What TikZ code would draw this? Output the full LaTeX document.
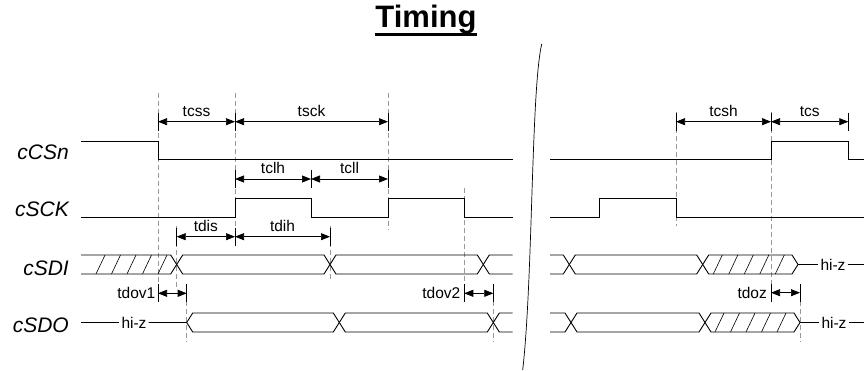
\documentclass[tikz,border=0pt]{standalone}
\usepackage{fontspec}
\setmainfont{Liberation Sans}
\usetikzlibrary{arrows.meta}

\begin{document}
\begin{tikzpicture}[x=1pt,y=1pt,
    sig/.style={black, line width=0.9pt},
    guide/.style={black!40, line width=0.7pt, dash pattern=on 5pt off 3pt},
    dimline/.style={black, line width=0.7pt, {Triangle[length=9pt,width=7pt]}-{Triangle[length=9pt,width=7pt]}},
    stopline/.style={black, line width=0.7pt},
    hatch/.style={black, line width=0.6pt},
    signame/.style={anchor=base east, font=\itshape\fontsize{21}{25}\selectfont},
    tlabel/.style={font=\fontsize{15.5}{18}\selectfont}]
    \tikzstyle{every node}+=[inner sep=0pt]
    \useasboundingbox (0,0) rectangle (864,-371);
    % title
    \node (title) [anchor=base, font=\bfseries\fontsize{31}{37}\selectfont] at (426,-28) {Timing};
    \draw [line width=2.6pt] ([yshift=-6.3pt]title.base west) -- ([yshift=-6.3pt]title.base east);
    % signal names
    \node (ncsn) [signame] at (69,-160) {cCSn};
    \node (nsck) [signame] at (69,-217) {cSCK};
    \node (nsdi) [signame] at (69,-275) {cSDI};
    \node (nsdo) [signame] at (69,-332) {cSDO};
    % guides
    \draw [guide] (158,-93) -- (158,-302);
    \draw [guide] (235,-93) -- (235,-245);
    \draw [guide] (388,-93) -- (388,-230);
    \draw [guide] (176.7,-226) -- (176.7,-290);
    \draw [guide] (186.7,-285) -- (186.7,-342);
    \draw [guide] (330,-226) -- (330,-282);
    \draw [guide] (464.3,-188) -- (464.3,-302);
    \draw [guide] (493.3,-285) -- (493.3,-342);
    \draw [guide] (676,-112) -- (676,-226);
    \draw [guide] (771,-112) -- (771,-300);
    \draw [guide] (800,-285) -- (800,-342);
    % cCSn
    \draw [sig] (81,-141) -- (158,-141) -- (158,-159) -- (512.5,-159);
    \draw [sig] (550,-159) -- (771,-159) -- (771,-141) -- (848.3,-141) -- (848.3,-159) -- (864,-159);
    % cSCK
    \draw [sig] (81,-217) -- (235,-217) -- (235,-198) -- (311,-198) -- (311,-217) -- (388,-217) -- (388,-198) -- (464.3,-198) -- (464.3,-217) -- (512.5,-217);
    \draw [sig] (550,-217) -- (599,-217) -- (599,-198) -- (676,-198) -- (676,-217) -- (864,-217);
    % cSDI
    \draw [sig] (81,-255) -- (170.7,-255) -- (182.7,-274) -- (324,-274) -- (336,-255) -- (477.3,-255) -- (489.3,-274) -- (512.5,-274);
    \draw [sig] (81,-274) -- (170.7,-274) -- (182.7,-255) -- (324,-255) -- (336,-274) -- (477.3,-274) -- (489.3,-255) -- (512.5,-255);
    \draw [hatch] (96,-274) -- (105,-255) (111.5,-274) -- (120.5,-255) (127,-274) -- (136,-255) (142.5,-274) -- (151.5,-255) (158,-274) -- (167,-255);
    \draw [sig] (550,-255) -- (563.3,-255) -- (575.3,-274) -- (696.7,-274) -- (708.7,-255) -- (792,-255) -- (798,-264.5);
    \draw [sig] (550,-274) -- (563.3,-274) -- (575.3,-255) -- (696.7,-255) -- (708.7,-274) -- (792,-274) -- (798,-264.5);
    \draw [hatch] (713.3,-274) -- (722.3,-255) (728.8,-274) -- (737.8,-255) (744.3,-274) -- (753.3,-255) (759.8,-274) -- (768.8,-255) (775.3,-274) -- (784.3,-255);
    \node (hizsdi) [tlabel, inner xsep=2pt] at (833,-264.5) {hi-z};
    \draw [sig] (798,-264.5) -- (hizsdi.west);
    \draw [sig] (hizsdi.east) -- (864,-264.5);
    % cSDO
    \node (hizsdo) [tlabel, inner xsep=2pt] at (134,-322.5) {hi-z};
    \draw [sig] (81,-322.5) -- (hizsdo.west);
    \draw [sig] (hizsdo.east) -- (186.7,-322.5) -- (192.7,-313) -- (333.3,-313) -- (345.3,-332) -- (487.3,-332) -- (499.3,-313) -- (512.5,-313);
    \draw [sig] (186.7,-322.5) -- (192.7,-332) -- (333.3,-332) -- (345.3,-313) -- (487.3,-313) -- (499.3,-332) -- (512.5,-332);
    \draw [sig] (550,-313) -- (565,-313) -- (577,-332) -- (699,-332) -- (711,-313) -- (794,-313) -- (800,-322.5);
    \draw [sig] (550,-332) -- (565,-332) -- (577,-313) -- (699,-313) -- (711,-332) -- (794,-332) -- (800,-322.5);
    \draw [hatch] (715,-332) -- (724,-313) (730.5,-332) -- (739.5,-313) (746,-332) -- (755,-313) (761.5,-332) -- (770.5,-313) (777,-332) -- (786,-313);
    \node (hizsdo2) [tlabel, inner xsep=2pt] at (834,-322.5) {hi-z};
    \draw [sig] (800,-322.5) -- (hizsdo2.west);
    \draw [sig] (hizsdo2.east) -- (864,-322.5);
    % break
    \draw [black, line width=0.7pt] (541.7,-44) .. controls (531,-90) and (533,-280) .. (522.7,-370);
    % timing marks
    \draw [stopline] (158,-112.7) -- (158,-130.7) (235,-112.7) -- (235,-130.7) (388,-112.7) -- (388,-130.7);
    \draw [stopline] (676,-112.7) -- (676,-130.7) (771,-112.7) -- (771,-130.7) (848.3,-112.7) -- (848.3,-130.7);
    \draw [stopline] (235,-170) -- (235,-188) (311,-170) -- (311,-188) (388,-170) -- (388,-188);
    \draw [stopline] (176.7,-227.7) -- (176.7,-245.7) (235,-227.7) -- (235,-245.7) (330,-227.7) -- (330,-245.7);
    \draw [stopline] (158,-284.3) -- (158,-302.3) (186.7,-284.3) -- (186.7,-302.3) (464.3,-284.3) -- (464.3,-302.3) (493.3,-284.3) -- (493.3,-302.3);
    \draw [stopline] (771,-283.7) -- (771,-301.7) (800,-283.7) -- (800,-301.7);
    \draw [dimline] (158,-121.7) -- (235,-121.7) node (tcss) [tlabel, midway, above=5pt] {tcss};
    \draw [dimline] (235,-121.7) -- (388,-121.7) node (tsck) [tlabel, midway, above=5pt] {tsck};
    \draw [dimline] (676,-121.7) -- (771,-121.7) node (tcsh) [tlabel, midway, above=5pt] {tcsh};
    \draw [dimline] (771,-121.7) -- (848.3,-121.7) node (tcs) [tlabel, midway, above=5pt] {tcs};
    \draw [dimline] (235,-179) -- (311,-179) node (tclh) [tlabel, midway, above=5pt] {tclh};
    \draw [dimline] (311,-179) -- (388,-179) node (tcll) [tlabel, midway, above=5pt] {tcll};
    \draw [dimline] (176.7,-236.7) -- (235,-236.7) node (tdis) [tlabel, midway, above=5pt] {tdis};
    \draw [dimline] (235,-236.7) -- (330,-236.7) node (tdih) [tlabel, midway, above=5pt] {tdih};
    \draw [dimline] (158,-293.3) -- (186.7,-293.3);
    \node (tdov1) [tlabel, anchor=east] at (155.5,-293.3) {tdov1};
    \draw [dimline] (464.3,-293.3) -- (493.3,-293.3);
    \node (tdov2) [tlabel, anchor=east] at (460.5,-293.3) {tdov2};
    \draw [dimline] (771,-292.7) -- (800,-292.7);
    \node (tdoz) [tlabel, anchor=east] at (767,-292.7) {tdoz};
\end{tikzpicture}
\end{document}
